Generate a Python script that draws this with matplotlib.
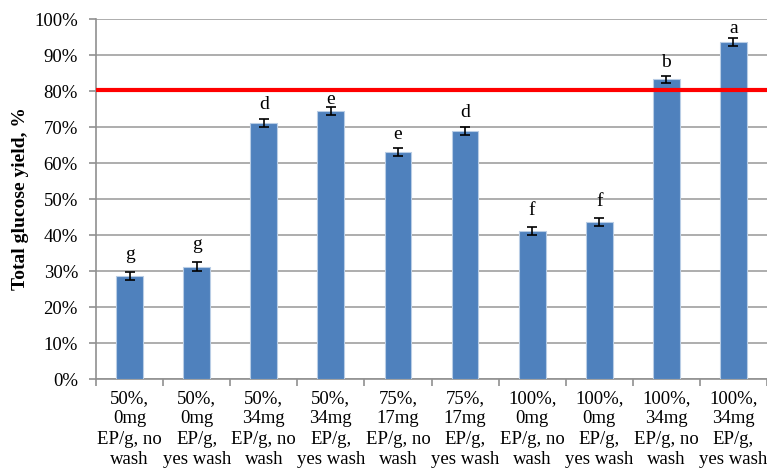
import matplotlib.pyplot as plt
import numpy as np

# Data
categories = [
    "50%,\n0mg\nEP/g, no\nwash", "50%,\n0mg\nEP/g,\nyes wash",
    "50%,\n34mg\nEP/g, no\nwash", "50%,\n34mg\nEP/g,\nyes wash",
    "75%,\n17mg\nEP/g, no\nwash", "75%,\n17mg\nEP/g,\nyes wash",
    "100%,\n0mg\nEP/g, no\nwash", "100%,\n0mg\nEP/g,\nyes wash",
    "100%,\n34mg\nEP/g, no\nwash", "100%,\n34mg\nEP/g,\nyes wash",
]
yields = [28.6, 31.2, 71.0, 74.4, 63.0, 68.9, 41.2, 43.7, 83.2, 93.7]
errors = [1.2, 1.2, 1.1, 1.1, 1.1, 1.1, 1.1, 1.1, 1.1, 1.1]
letters = ["g", "g", "d", "e", "e", "d", "f", "f", "b", "a"]
threshold = 80.3

plt.rcParams['font.family'] = ['Liberation Serif', 'DejaVu Serif']

# Init plot
fig = plt.figure(figsize=(7.67, 4.70), dpi=100)
ax = fig.add_axes([96 / 767, 1 - 379 / 470, 671 / 767, 360 / 470])

x = np.arange(len(categories))
ax.bar(x, yields, width=0.4, color="#4F81BD", edgecolor="#B9CDE5", linewidth=0.8, zorder=3)
ax.errorbar(x, yields, yerr=errors, fmt="none", ecolor="black", elinewidth=1.2,
            capsize=3.5, capthick=1.2, zorder=4)

# letter gaps above the error bars (hand-placed in the original)
label_gaps = [3.6, 3.6, 2.8, 0.9, 2.5, 2.9, 3.2, 3.2, 2.3, 1.4]
for xi, v, e, lab, gap in zip(x, yields, errors, letters, label_gaps):
    ax.text(xi, v + e + gap, lab, ha="center", va="baseline", fontsize=14, zorder=6)

ax.axhline(threshold, color="#FF0000", linewidth=3, zorder=5)

# Formatting
ax.set_xlim(-0.5, len(categories) - 0.5)
ax.set_ylim(0, 100)
ax.set_yticks(range(0, 101, 10))
ax.set_yticklabels([f"{v}%" for v in range(0, 101, 10)], fontsize=13.5)
ax.yaxis.grid(True, color="#A0A0A0", linewidth=1.2, zorder=0)
ax.tick_params(axis="y", length=5, color="#909090", width=1.2, pad=8)

ax.set_xticks(x)
ax.set_xticklabels(categories, fontsize=13.5, linespacing=1.25)
ax.set_xticks(np.arange(-0.5, len(categories)), minor=True)
ax.tick_params(axis="x", which="major", length=0, pad=8)
ax.tick_params(axis="x", which="minor", length=5, color="#909090", width=1.2)

for s in ["top", "right"]:
    ax.spines[s].set_visible(False)
for s in ["left", "bottom"]:
    ax.spines[s].set_color("#909090")
    ax.spines[s].set_linewidth(1.2)

ax.set_ylabel("Total glucose yield, %", fontsize=14, fontweight="bold")
ax.yaxis.set_label_coords(-0.1, 0.5)

fig.savefig("out.png", dpi=100)
